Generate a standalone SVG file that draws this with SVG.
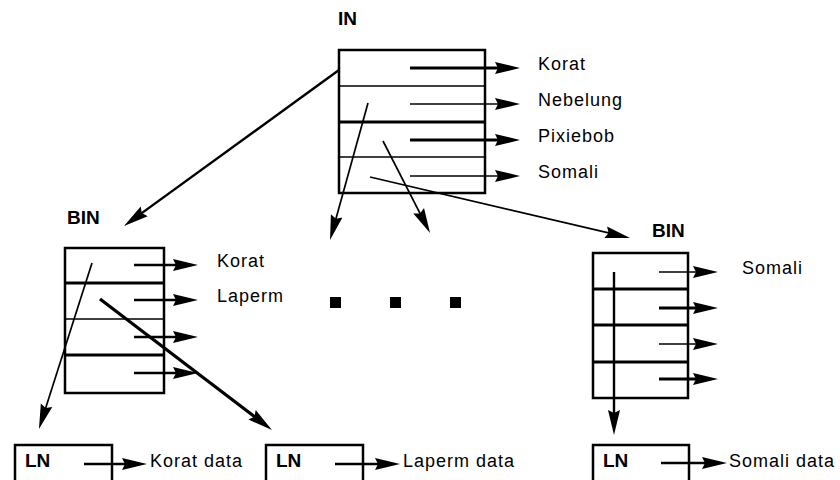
<svg xmlns="http://www.w3.org/2000/svg" width="840" height="480" viewBox="0 0 840 480">
  <style>
    .box { fill: #fff; stroke: #000; stroke-width: 2.5; }
    .div-thin { stroke: #000; stroke-width: 1.7; }
    .div-thick { stroke: #000; stroke-width: 3; }
    .ptr { stroke: #000; fill: none; marker-end: url(#ah); }
    .w1 { stroke-width: 1.7; }
    .w2 { stroke-width: 2.4; }
    .w3 { stroke-width: 3.2; }
    .lbl { font-family: "Liberation Sans", Arial, sans-serif; font-size: 18px; letter-spacing: 1px; fill: #000; }
    .ttl { font-family: "Liberation Sans", Arial, sans-serif; font-size: 19px; font-weight: bold; fill: #000; }
  </style>
  <defs>
    <marker id="ah" markerUnits="userSpaceOnUse" markerWidth="25" markerHeight="13" viewBox="0 0 25 13" refX="15" refY="6.5" orient="auto">
      <path d="M0,0.5 L25,6.5 L0,12.5 L3,6.5 z" fill="#000"/>
    </marker>
  </defs>

  <rect width="840" height="480" fill="#fff"/>

  <!-- internal node -->
  <g id="in-node">
    <text class="ttl" x="338" y="25">IN</text>
    <rect class="box" x="339" y="50" width="146" height="143"/>
    <line class="div-thin" x1="339" y1="86" x2="485" y2="86"/>
    <line class="div-thick" x1="339" y1="122" x2="485" y2="122"/>
    <line class="div-thin" x1="339" y1="157" x2="485" y2="157"/>
    <line class="ptr w3" x1="410" y1="68" x2="510" y2="68"/>
    <line class="ptr w1" x1="410" y1="104" x2="510" y2="104"/>
    <line class="ptr w3" x1="410" y1="140" x2="510" y2="140"/>
    <line class="ptr w1" x1="410" y1="176" x2="510" y2="176"/>
    <text class="lbl" x="538" y="70">Korat</text>
    <text class="lbl" x="538" y="106">Nebelung</text>
    <text class="lbl" x="538" y="142">Pixiebob</text>
    <text class="lbl" x="538" y="178">Somali</text>
  </g>

  <!-- left bottom internal node -->
  <g id="bin-left">
    <text class="ttl" x="67" y="224">BIN</text>
    <rect class="box" x="65" y="248" width="99" height="145"/>
    <line class="div-thick" x1="65" y1="283" x2="164" y2="283"/>
    <line class="div-thin" x1="65" y1="319" x2="164" y2="319"/>
    <line class="div-thick" x1="65" y1="355" x2="164" y2="355"/>
    <line class="ptr w2" x1="134" y1="265" x2="188" y2="265"/>
    <line class="ptr w2" x1="134" y1="300" x2="188" y2="300"/>
    <line class="ptr w2" x1="134" y1="337" x2="188" y2="337"/>
    <line class="ptr w2" x1="134" y1="373" x2="188" y2="373"/>
    <text class="lbl" x="217" y="267">Korat</text>
    <text class="lbl" x="217" y="302">Laperm</text>
  </g>

  <!-- right bottom internal node -->
  <g id="bin-right">
    <text class="ttl" x="652" y="237">BIN</text>
    <rect class="box" x="593" y="253" width="95" height="145"/>
    <line class="div-thick" x1="593" y1="289" x2="688" y2="289"/>
    <line class="div-thick" x1="593" y1="325" x2="688" y2="325"/>
    <line class="div-thick" x1="593" y1="362" x2="688" y2="362"/>
    <line class="ptr w1" x1="659" y1="272" x2="708" y2="272"/>
    <line class="ptr w3" x1="659" y1="308" x2="708" y2="308"/>
    <line class="ptr w1" x1="659" y1="344" x2="708" y2="344"/>
    <line class="ptr w3" x1="659" y1="379" x2="708" y2="379"/>
    <text class="lbl" x="742" y="274">Somali</text>
  </g>

  <!-- leaf nodes -->
  <g id="ln-korat">
    <rect class="box" x="15" y="445" width="97" height="60"/>
    <text class="ttl" x="25" y="467">LN</text>
    <line class="ptr w2" x1="84" y1="464" x2="137" y2="464"/>
    <text class="lbl" x="150" y="467">Korat data</text>
  </g>
  <g id="ln-laperm">
    <rect class="box" x="266" y="445" width="97" height="60"/>
    <text class="ttl" x="276" y="467">LN</text>
    <line class="ptr w2" x1="335" y1="464" x2="390" y2="464"/>
    <text class="lbl" x="403" y="467">Laperm data</text>
  </g>
  <g id="ln-somali">
    <rect class="box" x="593" y="445" width="96" height="60"/>
    <text class="ttl" x="603" y="467">LN</text>
    <line class="ptr w2" x1="661" y1="463" x2="717" y2="463"/>
    <text class="lbl" x="729" y="467">Somali data</text>
  </g>

  <!-- elided siblings -->
  <g id="ellipsis" fill="#000">
    <rect x="330" y="297" width="11" height="11"/>
    <rect x="390" y="297" width="11" height="11"/>
    <rect x="450" y="297" width="11" height="11"/>
  </g>

  <!-- child pointers -->
  <g id="connectors">
    <line class="ptr w2" x1="339" y1="70" x2="132.1" y2="220.1"/>
    <line class="ptr w1" x1="368" y1="103" x2="332.7" y2="230.4"/>
    <line class="ptr w1" x1="383" y1="141" x2="425.5" y2="224.1"/>
    <line class="ptr w1" x1="370" y1="177" x2="620.3" y2="235.7"/>
    <line class="ptr w1" x1="92" y1="263" x2="42.0" y2="419.5"/>
    <line class="ptr w3" x1="100" y1="299" x2="264.0" y2="423.9"/>
    <line class="ptr w2" x1="614" y1="272" x2="614" y2="425"/>
  </g>
</svg>
